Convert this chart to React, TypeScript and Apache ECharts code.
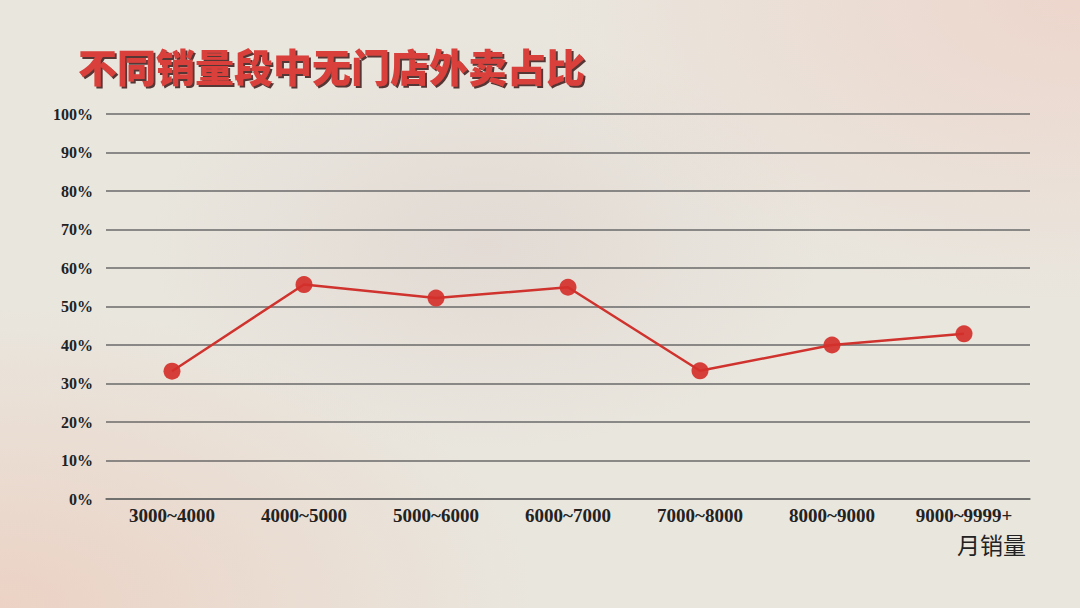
import React, { useEffect, useRef } from 'react';
import * as echarts from 'echarts';

const categories = ['3000~4000', '4000~5000', '5000~6000', '6000~7000', '7000~8000', '8000~9000', '9000~9999+'];
const shareValues = [33.2, 55.7, 52.2, 55.0, 33.3, 40.0, 42.9];
const titleText = '不同销量段中无门店外卖占比';
const xAxisName = '月销量';

const labelFont = '"Liberation Serif", "DejaVu Serif", serif';

const App: React.FC = () => {
  const chartRef = useRef<HTMLDivElement>(null);

  useEffect(() => {
    if (!chartRef.current) return;
    const chart = echarts.init(chartRef.current, undefined, { renderer: 'svg' });

    chart.setOption({
      animation: false,
      backgroundColor: 'transparent',
      grid: { left: 106, right: 50, top: 114, bottom: 109 },
      graphic: [
        {
          type: 'text',
          left: 78,
          top: 45,
          style: {
            text: titleText,
            font: '900 39px "Noto Sans CJK SC", sans-serif',
            fill: '#d9403a',
            textShadowColor: 'rgba(60, 25, 25, 0.85)',
            textShadowOffsetX: 2,
            textShadowOffsetY: 2,
            textShadowBlur: 1,
          },
        },
        {
          type: 'text',
          left: 957,
          top: 532,
          style: {
            text: xAxisName,
            font: '400 23px "Noto Sans CJK SC", sans-serif',
            fill: '#222',
          },
        },
      ],
      xAxis: {
        type: 'category',
        data: categories,
        boundaryGap: true,
        axisLine: { show: true, lineStyle: { color: '#6a6a6a', width: 1.5 } },
        axisTick: { show: false },
        axisLabel: {
          margin: 7,
          color: '#222',
          fontFamily: labelFont,
          fontWeight: 'bold',
          fontSize: 19,
        },
      },
      yAxis: {
        type: 'value',
        min: 0,
        max: 100,
        interval: 10,
        axisLine: { show: false },
        axisTick: { show: false },
        axisLabel: {
          margin: 13,
          color: '#222',
          fontFamily: labelFont,
          fontWeight: 'bold',
          fontSize: 16,
          formatter: '{value}%',
        },
        splitLine: { lineStyle: { color: '#6a6a6a', width: 1.5 } },
      },
      series: [
        {
          type: 'line',
          data: shareValues,
          symbol: 'circle',
          symbolSize: 17,
          lineStyle: { color: '#d0332e', width: 2.5 },
          itemStyle: { color: '#d4302b', opacity: 0.92 },
        },
      ],
    });

    return () => {
      chart.dispose();
    };
  }, []);

  return (
    <div
      ref={chartRef}
      style={{
        position: 'absolute',
        left: 0,
        top: 0,
        width: 1080,
        height: 608,
        background:
          'radial-gradient(ellipse at 0% 100%, rgba(236, 205, 190, 0.8) 0%, rgba(236, 205, 190, 0) 35%),' +
          'radial-gradient(ellipse at 100% 0%, rgba(238, 210, 200, 0.8) 0%, rgba(238, 210, 200, 0) 35%),' +
          'radial-gradient(ellipse at 45% 40%, rgba(222, 210, 205, 0.6) 0%, rgba(222, 210, 205, 0) 40%),' +
          '#e9e6de',
      }}
    />
  );
};

export default App;
